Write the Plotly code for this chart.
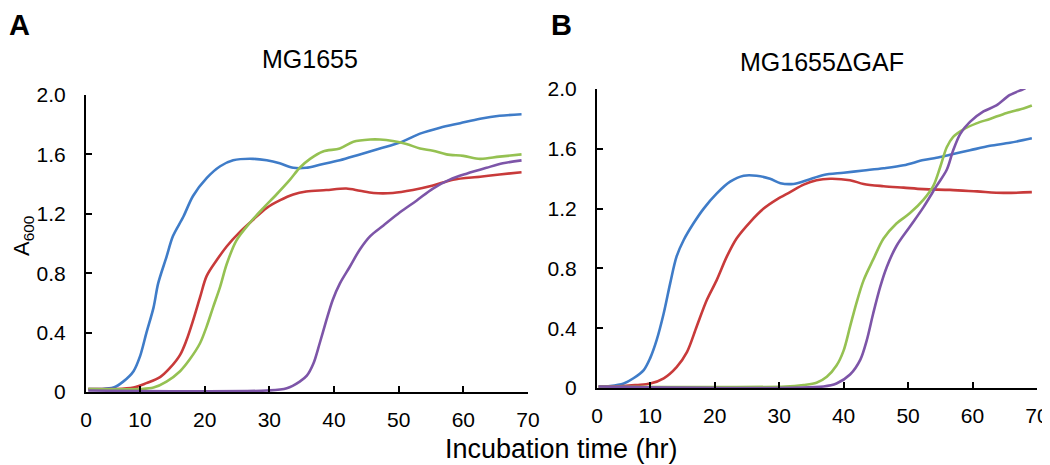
import plotly.graph_objects as go

# ---- Panel A: MG1655 (time in hr, A600) ----
a_blue_t = [2, 3.8, 5.9, 7.4, 9.0, 10.0, 11.0, 12.1, 12.8, 14.1, 15.1, 16.7, 18.2, 20.3, 22.4, 24.4,
            27.5, 29.6, 31.6, 33.7, 35.7, 37.8, 40.9, 44.0, 47.1, 50.2, 53.3, 56.4, 59.5, 62.6, 65.6, 69.0]
a_blue_v = [0.02, 0.02, 0.03, 0.07, 0.14, 0.24, 0.40, 0.57, 0.73, 0.91, 1.05, 1.18, 1.32, 1.44, 1.52, 1.56,
            1.57, 1.56, 1.54, 1.51, 1.51, 1.53, 1.56, 1.60, 1.64, 1.68, 1.74, 1.78, 1.81, 1.84, 1.86, 1.87]

a_red_t = [2, 5.9, 9.0, 11.0, 13.1, 14.6, 16.2, 17.2, 18.2, 19.3, 20.3, 21.9, 23.4, 25.5, 27.5, 29.6,
           31.6, 33.7, 35.7, 38.8, 41.9, 44.0, 46.1, 49.1, 52.2, 55.3, 58.4, 62.6, 65.6, 69.0]
a_red_v = [0.02, 0.02, 0.03, 0.06, 0.10, 0.16, 0.25, 0.35, 0.48, 0.64, 0.78, 0.89, 0.98, 1.08, 1.16, 1.24,
           1.29, 1.33, 1.35, 1.36, 1.37, 1.355, 1.34, 1.34, 1.36, 1.39, 1.43, 1.45, 1.465, 1.48]

a_green_t = [2, 10.0, 12.1, 14.1, 16.2, 17.7, 19.3, 20.3, 21.3, 22.4, 23.4, 24.9, 27.0, 29.1, 31.1, 33.2,
             34.7, 36.3, 38.3, 40.9, 43.0, 45.6, 47.1, 49.1, 51.2, 53.3, 55.3, 57.4, 60.0, 62.6, 65.6, 69.0]
a_green_v = [0.02, 0.02, 0.03, 0.07, 0.14, 0.22, 0.33, 0.44, 0.57, 0.71, 0.86, 1.02, 1.14, 1.24, 1.33, 1.43,
             1.51, 1.57, 1.62, 1.64, 1.685, 1.70, 1.70, 1.69, 1.67, 1.64, 1.625, 1.60, 1.59, 1.57, 1.585, 1.60]

a_purple_t = [2, 29.6, 32.7, 34.7, 35.8, 36.8, 37.8, 38.8, 39.8, 40.9, 42.4, 44.0, 45.6, 47.6, 50.2,
              52.8, 55.3, 57.9, 60.5, 63.6, 66.1, 69.0]
a_purple_v = [0.01, 0.01, 0.025, 0.07, 0.11, 0.19, 0.33, 0.48, 0.62, 0.73, 0.84, 0.96, 1.05, 1.12, 1.21,
              1.29, 1.37, 1.43, 1.47, 1.51, 1.54, 1.56]

# ---- Panel B: MG1655ΔGAF ----
b_blue_t = [2, 3.8, 5.9, 7.4, 9.0, 10.0, 11.0, 12.1, 13.1, 14.1, 15.2, 16.7, 18.3, 20.3, 22.4, 24.5, 26.5,
            28.6, 30.2, 32.2, 34.3, 36.9, 40.0, 43.1, 46.2, 49.3, 52.4, 54.4, 56.5, 59.6, 62.7, 65.8, 69.2]
b_blue_v = [0.01, 0.013, 0.03, 0.065, 0.12, 0.20, 0.32, 0.50, 0.70, 0.88, 0.99, 1.10, 1.20, 1.30, 1.38, 1.42, 1.42,
            1.40, 1.37, 1.365, 1.39, 1.425, 1.44, 1.455, 1.47, 1.49, 1.525, 1.54, 1.56, 1.59, 1.62, 1.64, 1.67]

b_red_t = [2, 5.9, 7.9, 10.0, 12.1, 14.1, 15.7, 17.2, 18.8, 20.3, 21.9, 23.4, 25.5, 27.6, 29.6, 31.7,
           33.8, 35.8, 37.9, 41.0, 43.1, 46.2, 49.3, 52.4, 56.5, 60.7, 64.8, 69.2]
b_red_v = [0.01, 0.013, 0.02, 0.03, 0.065, 0.14, 0.24, 0.41, 0.59, 0.72, 0.88, 1.00, 1.11, 1.20, 1.26, 1.31,
           1.36, 1.39, 1.40, 1.39, 1.365, 1.35, 1.34, 1.33, 1.325, 1.315, 1.305, 1.31]

b_green_t = [2, 31.0, 33.8, 35.8, 37.4, 38.9, 40.0, 41.0, 42.0, 43.1, 44.6, 46.2, 48.2, 50.3, 52.4, 53.9,
             55.0, 56.0, 57.0, 58.6, 60.6, 62.7, 65.3, 67.9, 69.2]
b_green_v = [0.01, 0.01, 0.02, 0.035, 0.075, 0.15, 0.25, 0.41, 0.57, 0.72, 0.86, 1.00, 1.10, 1.17, 1.26, 1.35,
             1.48, 1.61, 1.68, 1.73, 1.77, 1.80, 1.84, 1.87, 1.89]

b_purple_t = [2, 36.9, 38.9, 41.0, 42.6, 43.6, 44.6, 45.7, 46.7, 48.2, 50.3, 52.4, 54.4, 56.0, 57.0,
              58.1, 59.6, 61.7, 63.7, 65.8, 67.9, 69.2]
b_purple_v = [0.01, 0.01, 0.03, 0.09, 0.19, 0.32, 0.50, 0.68, 0.81, 0.95, 1.08, 1.21, 1.35, 1.46, 1.59,
              1.70, 1.78, 1.85, 1.89, 1.96, 2.00, 2.03]

y_ticks = [0, 0.4, 0.8, 1.2, 1.6, 2.0]
y_ticktext = ['0', '0.4', '0.8', '1.2', '1.6', '2.0']
x_ticktext = ['0', '10', '20', '30', '40', '50', '60', '70']

BLUE = '#3F7CC8'
RED = '#C83A3A'
GREEN = '#95C152'
PURPLE = '#7D55A8'

FONT = 'Liberation Sans, Arial, sans-serif'

# the page body has an 8px margin, so the figure is a bit smaller and everything is placed relative to it
OFF = 8
W, H = 1050 - OFF, 465 - OFF


def xp(px):
    return (px - OFF) / W


def yp(py):
    return 1 - (py - OFF) / H


fig = go.Figure()

panels = [
    ('x', 'y', [(a_blue_t, a_blue_v, BLUE), (a_red_t, a_red_v, RED),
                (a_green_t, a_green_v, GREEN), (a_purple_t, a_purple_v, PURPLE)]),
    ('x2', 'y2', [(b_blue_t, b_blue_v, BLUE), (b_red_t, b_red_v, RED),
                  (b_green_t, b_green_v, GREEN), (b_purple_t, b_purple_v, PURPLE)]),
]

for xa, ya, series in panels:
    for t, v, c in series:
        fig.add_trace(go.Scatter(x=t, y=v, xaxis=xa, yaxis=ya, mode='lines',
                                 line=dict(color=c, width=2.6, shape='spline', smoothing=0.9),
                                 showlegend=False, hoverinfo='skip'))

# the time axis starts a little after 0 in the original figure
a_x0 = 1.65
b_x0 = 1.75

axis_common = dict(showline=True, linecolor='black', linewidth=2, ticks='inside', tickcolor='black',
                   tickwidth=2, ticklen=6, showgrid=False, zeroline=False, automargin=False,
                   tickfont=dict(family=FONT, size=21, color='black'))

fig.update_layout(
    width=W, height=H,
    margin=dict(l=0, r=0, t=0, b=0, autoexpand=False),
    paper_bgcolor='white', plot_bgcolor='white',
    xaxis=dict(domain=[xp(86), xp(528)], range=[a_x0, 70], anchor='y',
               tickvals=[a_x0, 10, 20, 30, 40, 50, 60, 70], ticktext=x_ticktext,
               ticklabelstandoff=8, **axis_common),
    yaxis=dict(domain=[yp(392), yp(95)], range=[0, 2.0], anchor='x',
               tickvals=y_ticks, ticktext=y_ticktext, ticklabelstandoff=14, **axis_common),
    xaxis2=dict(domain=[xp(597), xp(1037)], range=[b_x0, 70], anchor='y2',
                tickvals=[b_x0, 10, 20, 30, 40, 50, 60, 70], ticktext=x_ticktext,
                ticklabelstandoff=8, **axis_common),
    yaxis2=dict(domain=[yp(388), yp(89)], range=[0, 2.0], anchor='x2',
                tickvals=y_ticks, ticktext=y_ticktext, ticklabelstandoff=14, **axis_common),
)

ann = [
    dict(text='<b>A</b>', x=xp(8), y=1.0, xanchor='left', yanchor='top', font_size=29),
    dict(text='<b>B</b>', x=xp(550), y=1.0, xanchor='left', yanchor='top', font_size=29),
    dict(text='MG1655', x=xp(310), y=yp(59), xanchor='center', yanchor='middle', font_size=25),
    dict(text='MG1655\u0394GAF', x=xp(822), y=yp(62), xanchor='center', yanchor='middle', font_size=25),
    dict(text='A<sub>600</sub>', x=0.0, y=yp(236), xanchor='left', yanchor='middle',
         textangle=-90, font_size=22),
    dict(text='Incubation time (hr)', x=xp(561), y=yp(449), xanchor='center', yanchor='middle',
         font_size=27),
]
for a in ann:
    fs = a.pop('font_size')
    fig.add_annotation(xref='paper', yref='paper', showarrow=False, borderpad=0,
                       font=dict(family=FONT, size=fs, color='black'), **a)

fig.write_html("out.html")
